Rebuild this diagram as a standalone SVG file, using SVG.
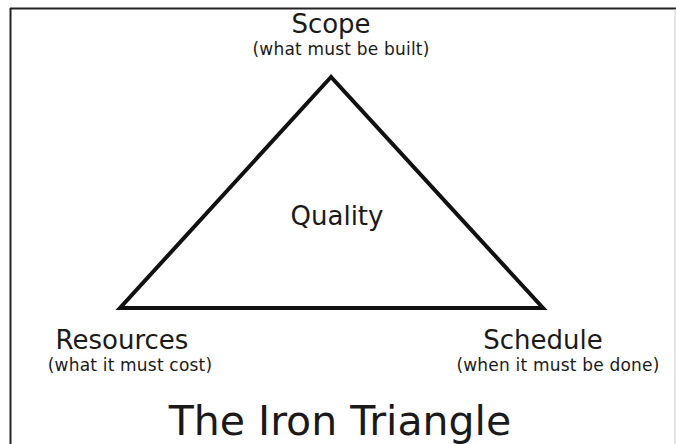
<svg xmlns="http://www.w3.org/2000/svg" width="676" height="444" viewBox="0 0 676 444">
<style>
text{font-family:"DejaVu Sans","Liberation Sans",sans-serif;fill:#1a1a1a;text-anchor:middle}
.t{font-size:26px}
.s{font-size:17px;letter-spacing:0.2px}
.big{font-size:41px}
</style>
<rect width="676" height="444" fill="#fff"/>
<g id="frame">
<line x1="10" y1="8.5" x2="676" y2="8.5" stroke="#222" stroke-width="2"/>
<line x1="10.5" y1="8" x2="10.5" y2="444" stroke="#222" stroke-width="2"/>
<line x1="675" y1="9" x2="675" y2="444" stroke="#ccc" stroke-width="1"/>
</g>
<g id="connectors">
<polygon points="331,77 120,308 543,308" fill="none" stroke="#111" stroke-width="4" stroke-linejoin="miter"/>
</g>
<g id="scope"><text class="t" x="331" y="33">Scope</text><text class="s" x="341" y="55">(what must be built)</text></g>
<g id="quality"><text class="t" x="337" y="225">Quality</text></g>
<g id="resources"><text class="t" x="122" y="349">Resources</text><text class="s" x="130" y="371">(what it must cost)</text></g>
<g id="schedule"><text class="t" x="543" y="349">Schedule</text><text class="s" x="558" y="371">(when it must be done)</text></g>
<g id="title"><text class="big" x="340" y="435">The Iron Triangle</text></g>
</svg>
